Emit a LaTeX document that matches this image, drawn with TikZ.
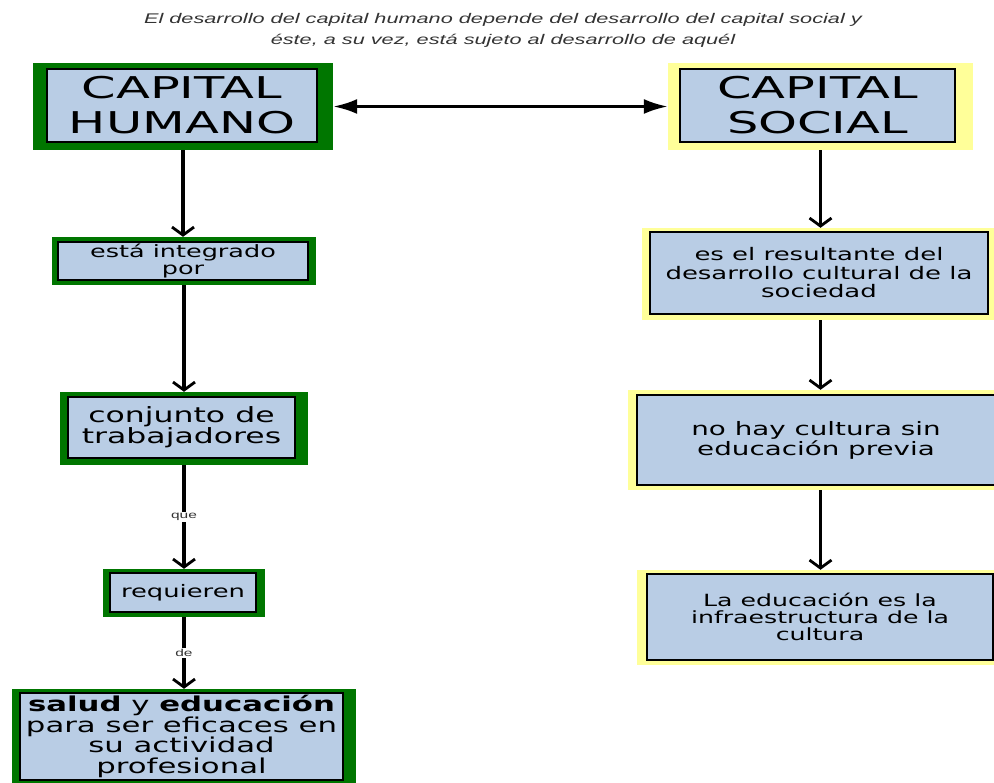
\documentclass[tikz,border=0pt]{standalone}
\usepackage{fontspec}
\setmainfont[FakeStretch=1.5]{DejaVu Sans}
\newfontfamily\bigfont[FakeStretch=1.65]{DejaVu Sans}
\newfontfamily\titlefont[FakeStretch=1.55]{Liberation Sans}
\usetikzlibrary{arrows.meta}
\definecolor{hgreen}{RGB}{0,118,0}
\definecolor{syellow}{RGB}{255,255,153}
\definecolor{boxblue}{RGB}{185,205,229}
\definecolor{titlegray}{RGB}{51,51,51}
\tikzset{
  gframe/.style={fill=hgreen, draw=none, inner sep=0pt},
  yframe/.style={fill=syellow, draw=none, inner sep=0pt},
  box/.style={draw=black, line width=2.2pt, fill=boxblue, align=center, inner sep=0pt, text=black},
  link/.style={line width=3.5pt, -{Straight Barb[length=8pt,width=22pt,line width=2.8pt]}},
  biarrow/.style={line width=3pt, {Latex[length=24pt,width=15pt]}-{Latex[length=24pt,width=15pt]}},
  lbl/.style={fill=white, inner sep=1pt, text=black!80, font=\titlefont\fontsize{10}{11}\selectfont}
}
\begin{document}
\begin{tikzpicture}[x=1pt,y=-1pt]
\useasboundingbox (0,0) rectangle (994,783);
\clip (0,0) rectangle (994,783);
% title
\node[align=center, text=titlegray, font=\titlefont\itshape\fontsize{14}{21}\selectfont] (title) at (503,30)
  {El desarrollo del capital humano depende del desarrollo del capital social y\\
   éste, a su vez, está sujeto al desarrollo de aquél};
% frames
\node[gframe, minimum width=300pt, minimum height=87pt] (humF) at (183,106.5) {};
\node[yframe, minimum width=305pt, minimum height=87pt] (socF) at (820.5,106.5) {};
\node[gframe, minimum width=264pt, minimum height=48pt] (intF) at (184,261) {};
\node[gframe, minimum width=248pt, minimum height=73pt] (conjF) at (184,428.5) {};
\node[gframe, minimum width=162pt, minimum height=48pt] (reqF) at (184,593) {};
\node[gframe, minimum width=344pt, minimum height=106pt] (salF) at (184,742) {};
\node[yframe, minimum width=356pt, minimum height=92pt] (resF) at (820,274) {};
\node[yframe, minimum width=376pt, minimum height=100pt] (nohF) at (816,440) {};
\node[yframe, minimum width=367pt, minimum height=95pt] (eduF) at (820.5,617.5) {};
% boxes
\node[box, minimum width=270pt, minimum height=73pt, font=\bigfont\fontsize{30}{35}\selectfont] (hum) at (182,105.5) {CAPITAL\\HUMANO};
\node[box, minimum width=275pt, minimum height=73pt, font=\bigfont\fontsize{30}{35}\selectfont] (soc) at (817.5,105.5) {CAPITAL\\SOCIAL};
\node[box, minimum width=250pt, minimum height=38pt, font=\fontsize{17}{16.5}\selectfont] (int) at (183,261) {está integrado\\por};
\node[box, minimum width=227pt, minimum height=61pt, font=\fontsize{21}{21}\selectfont] (conj) at (181.5,427.5) {conjunto de\\trabajadores};
\node[box, minimum width=146pt, minimum height=39pt, font=\fontsize{17.2}{18}\selectfont] (req) at (183,592.5) {requieren};
\node[box, minimum width=323pt, minimum height=87pt, font=\fontsize{20.5}{20.5}\selectfont] (sal) at (181.5,736.5)
  {\textbf{salud} y \textbf{educación}\\para ser eficaces en\\su actividad\\profesional};
\node[box, minimum width=338pt, minimum height=82pt, font=\fontsize{17.3}{18.5}\selectfont] (res) at (819,273)
  {es el resultante del\\desarrollo cultural de la\\sociedad};
\node[box, minimum width=358pt, minimum height=90pt, font=\fontsize{18.5}{20}\selectfont] (noh) at (816,440)
  {no hay cultura sin\\educación previa};
\node[box, minimum width=346pt, minimum height=86pt, font=\fontsize{16.8}{17}\selectfont] (edu) at (820,617)
  {La educación es la\\infraestructura de la\\cultura};
% connectors
\draw[biarrow] (humF.east) -- (socF.west);
\draw[link] (humF.south) -- (humF.south |- intF.north);
\draw[link] (intF.south) -- (intF.south |- conjF.north);
\draw[link] (conjF.south) -- node[lbl] {que} (conjF.south |- reqF.north);
\draw[link] (reqF.south) -- node[lbl] {de} (reqF.south |- salF.north);
\draw[link] (socF.south) -- (socF.south |- resF.north);
\draw[link] (socF.south |- resF.south) -- (socF.south |- nohF.north);
\draw[link] (socF.south |- nohF.south) -- (socF.south |- eduF.north);
\end{tikzpicture}
\end{document}
